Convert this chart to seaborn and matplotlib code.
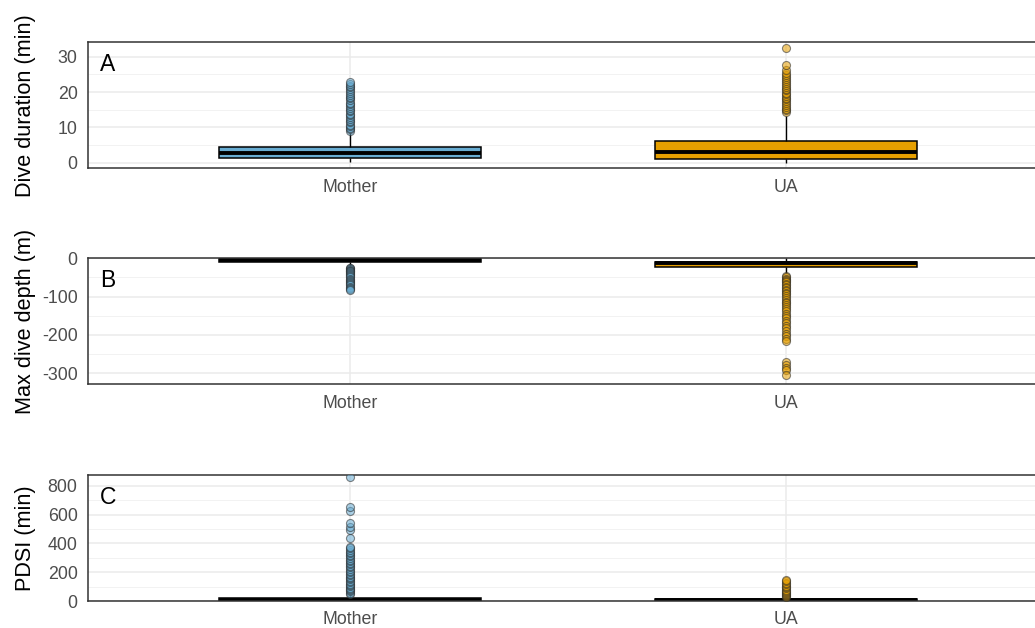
import numpy as np
import pandas as pd
import matplotlib
matplotlib.use("Agg")
import matplotlib.pyplot as plt
import seaborn as sns

sns.set_style("white")
plt.rcParams["font.family"] = ["Liberation Sans", "DejaVu Sans"]
plt.rcParams["axes.unicode_minus"] = False

groups = ["Mother", "UA"]
group_colors = ["#68ACD2", "#E69F00"]

# Box bodies: lower whisker end, Q1, median, Q3, upper whisker end
body_counts = [1, 80, 80, 80, 1]

duration_mother_body = [0.3, 1.4, 2.6, 4.4, 8.5]
duration_mother_outliers = [9.1, 9.4, 9.9, 10.3, 10.8, 11.4, 11.9, 12.3, 12.9, 13.4,
                            13.8, 14.5, 15.0, 15.4, 16.1, 16.6, 17.0, 17.7, 18.2,
                            18.6, 19.3, 19.8, 20.2, 20.9, 21.4, 21.8, 22.3, 22.8]
duration_ua_body = [0.0, 0.9, 3.0, 6.2, 13.3]
duration_ua_outliers = [14.4, 14.8, 15.3, 15.9, 16.3, 16.8, 17.4, 17.9, 18.3, 18.9,
                        19.4, 19.8, 20.5, 21.0, 21.4, 22.1, 22.6, 23.0, 23.7, 24.2,
                        24.8, 25.5, 26.2, 27.8, 32.5]

depth_mother_body = [-22, -10, -4, -1, -0.2]
depth_mother_outliers = [-24.5, -26, -28, -30, -32, -34, -36.5, -39, -41.5, -44,
                         -47, -50, -53, -56, -59, -62, -65, -68, -71, -74, -77,
                         -80, -83]
depth_ua_body = [-38, -23, -11, -8.5, -0.5]
depth_ua_outliers = [-47, -50, -53, -56, -59, -62, -66, -70, -74, -78, -82, -86,
                     -90, -94, -98, -103, -108, -113, -118, -123, -128, -133, -139,
                     -145, -151, -157, -163, -169, -176, -183, -190, -197, -204,
                     -211, -216, -272, -279, -286, -293, -305]

pdsi_mother_body = [0.5, 2, 8, 20, 45]
pdsi_mother_outliers = [50, 58, 66, 75, 84, 93, 102, 111, 120, 130, 140, 150, 160,
                        170, 180, 190, 200, 211, 222, 233, 244, 255, 266, 277, 288,
                        299, 310, 321, 332, 343, 354, 365, 375, 440, 492, 515, 545,
                        625, 655, 862]
pdsi_ua_body = [0.5, 1, 5, 12, 27]
pdsi_ua_outliers = [31, 36, 42, 48, 55, 62, 70, 78, 87, 96, 106, 116, 126, 136, 146]

panels = [
    dict(letter="A", ylabel="Dive duration (min)",
         data=[(duration_mother_body, duration_mother_outliers),
               (duration_ua_body, duration_ua_outliers)],
         ylim=(-1.6, 34.1), major=[0, 10, 20, 30], minor=[5, 15, 25],
         rect_px=(42.3, 168.3)),
    dict(letter="B", ylabel="Max dive depth (m)",
         data=[(depth_mother_body, depth_mother_outliers),
               (depth_ua_body, depth_ua_outliers)],
         ylim=(-329, 0), major=[-300, -200, -100, 0], minor=[-250, -150, -50],
         rect_px=(258.3, 384.2)),
    dict(letter="C", ylabel="PDSI (min)",
         data=[(pdsi_mother_body, pdsi_mother_outliers),
               (pdsi_ua_body, pdsi_ua_outliers)],
         ylim=(0, 875), major=[0, 200, 400, 600, 800], minor=[100, 300, 500, 700],
         rect_px=(475.0, 601.0)),
]

W, H = 1035, 628
fig = plt.figure(figsize=(W / 100, H / 100), dpi=100)
left_px, right_px = 88, 1048

for p in panels:
    top_px, bot_px = p["rect_px"]
    ax = fig.add_axes([left_px / W, 1 - bot_px / H,
                       (right_px - left_px) / W, (bot_px - top_px) / H])

    records = []
    for g, (body, outs) in zip(groups, p["data"]):
        vals = list(np.repeat(body, body_counts)) + list(outs)
        records += [(g, v) for v in vals]
    df = pd.DataFrame(records, columns=["group", "value"])

    sns.boxplot(data=df, x="group", y="value", hue="group", order=groups,
                hue_order=groups, palette=group_colors, saturation=1, width=0.6,
                linecolor="black", linewidth=1.1, showcaps=False, fliersize=5.8,
                flierprops=dict(marker="o", markeredgecolor="#2B2B2B",
                                markeredgewidth=0.8, alpha=0.55),
                medianprops=dict(color="black", linewidth=2.8),
                whiskerprops=dict(color="black", linewidth=1.0),
                legend=False, ax=ax)

    # outlier points take the fill colour of their group
    for line in ax.lines:
        xd = line.get_xdata()
        if line.get_marker() == "o" and len(xd) > 0:
            idx = int(round(float(xd[0])))
            line.set_markerfacecolor(group_colors[idx])
            line.set_zorder(3)

    ax.set_xlim(-0.6, 1.6)
    ax.set_ylim(*p["ylim"])
    ax.set_yticks(p["major"])
    ax.set_yticks(p["minor"], minor=True)
    ax.set_axisbelow(True)
    ax.grid(axis="y", which="major", color="#EBEBEB", linewidth=1.1)
    ax.grid(axis="y", which="minor", color="#F2F2F2", linewidth=0.7)
    ax.grid(axis="x", which="major", color="#EBEBEB", linewidth=1.1)

    ax.set_xlabel("")
    ax.set_ylabel(p["ylabel"], fontsize=15.6, color="black")
    ax.yaxis.set_label_coords(-0.054, 0.5)
    ax.tick_params(axis="both", which="major", labelsize=12.8, labelcolor="#4D4D4D",
                   color="#333333", width=0.8, length=4)
    ax.tick_params(axis="x", pad=3.5)
    ax.tick_params(axis="y", pad=3.5)
    ax.tick_params(axis="y", which="minor", length=0)
    for s in ax.spines.values():
        s.set_visible(True)
        s.set_color("#333333")
        s.set_linewidth(1.1)

    ax.text(0.0125, 0.915, p["letter"], transform=ax.transAxes, ha="left",
            va="top", fontsize=16.5, color="black")

fig.savefig("out.png", dpi=100)
